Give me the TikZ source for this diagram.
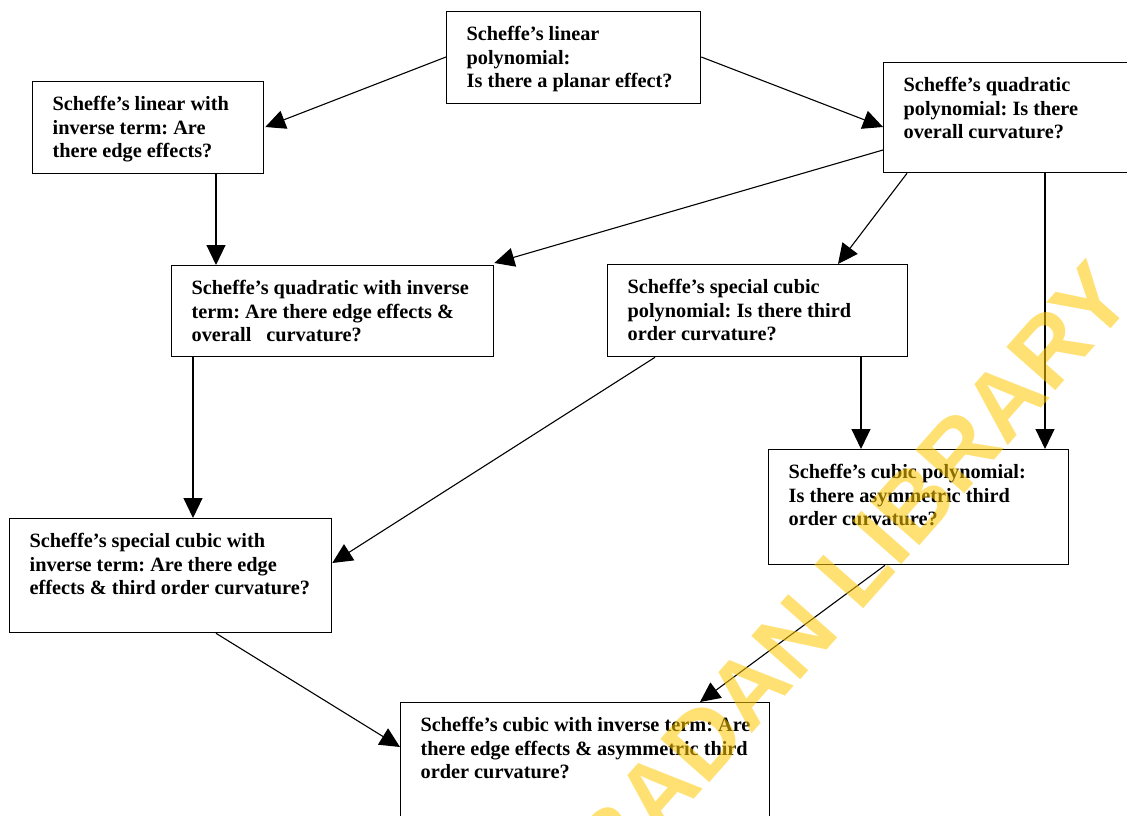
\documentclass[tikz,border=0pt]{standalone}
\usepackage{fontspec}
\setmainfont{Liberation Serif}
\newfontfamily\wmfont{Liberation Sans}
\usetikzlibrary{arrows.meta,calc}
\definecolor{wmyellow}{RGB}{255,200,0}
\tikzset{
  box/.style={draw, line width=1.3pt, anchor=north west, inner sep=0pt, align=left},
  arr/.style={line width=1.1pt, -{Triangle[length=20pt,width=19pt]}},
  wmark/.style={rotate=48.5, anchor=base east, text=wmyellow, text opacity=0.55,
    font=\wmfont\bfseries\fontsize{95pt}{95pt}\selectfont},
}
\newcommand{\boxtext}[3]{\parbox[c][#2][t]{#1}{\frenchspacing\raggedright\leftskip=20pt\fontsize{20.3pt}{23.4pt}\selectfont\bfseries\rule{0pt}{29pt}#3\par}}
\begin{document}
\begin{tikzpicture}
\useasboundingbox (0,0) rectangle (1127pt,-816pt);
\clip (0,0) rectangle (1127pt,-816pt);
\node[box] (lin) at (446pt,-11pt) {\boxtext{254pt}{92pt}{Scheffe’s linear\\ polynomial:\\ Is there a planar effect?}};
\node[box] (lininv) at (32pt,-81pt) {\boxtext{231pt}{92pt}{Scheffe’s linear with\\ inverse term: Are\\ there edge effects?}};
\node[box] (quad) at (883pt,-62pt) {\boxtext{260pt}{110pt}{Scheffe’s quadratic\\ polynomial: Is there\\ overall curvature?}};
\node[box] (quadinv) at (171pt,-265pt) {\boxtext{322pt}{91pt}{Scheffe’s quadratic with inverse\\ term: Are there edge effects \&\\ overall\hspace{15pt}curvature?}};
\node[box] (spc) at (607pt,-264pt) {\boxtext{300pt}{92pt}{Scheffe’s special cubic\\ polynomial: Is there third\\ order curvature?}};
\node[box] (cub) at (768pt,-449pt) {\boxtext{300pt}{115pt}{Scheffe’s cubic polynomial:\\ Is there asymmetric third\\ order curvature?}};
\node[box] (spcinv) at (9pt,-518pt) {\boxtext{322pt}{114pt}{Scheffe’s special cubic with\\ inverse term: Are there edge\\ effects \& third order curvature?}};
\node[box] (cubinv) at (400pt,-702pt) {\boxtext{369pt}{130pt}{Scheffe’s cubic with inverse term: Are\\ there edge effects \& asymmetric third\\ order curvature?}};

\draw[arr] ([shift={(0pt,-46pt)}]lin.north west) -- ([shift={(1pt,-46pt)}]lininv.north east);
\draw[arr] ([shift={(0pt,-46pt)}]lin.north east) -- ([shift={(0pt,-65pt)}]quad.north west);
\draw[arr] ([shift={(184pt,0pt)}]lininv.south west) -- ([shift={(45pt,0pt)}]quadinv.north west);
\draw[arr] ([shift={(0pt,-88pt)}]quad.north west) -- ([shift={(0pt,2pt)}]quadinv.north east);
\draw[arr] ([shift={(24pt,0pt)}]quad.south west) -- ([shift={(231pt,0pt)}]spc.north west);
\draw[arr] ([shift={(162pt,0pt)}]quad.south west) -- ([shift={(277pt,0pt)}]cub.north west);
\draw[arr] ([shift={(254pt,0pt)}]spc.south west) -- ([shift={(93pt,0pt)}]cub.north west);
\draw[arr] ([shift={(48pt,0pt)}]spc.south west) -- ([shift={(0pt,-45pt)}]spcinv.north east);
\draw[arr] ([shift={(22pt,0pt)}]quadinv.south west) -- ([shift={(184pt,0pt)}]spcinv.north west);
\draw[arr] ([shift={(207pt,0pt)}]spcinv.south west) -- ([shift={(0pt,-45pt)}]cubinv.north west);
\draw[arr] ([shift={(117pt,0pt)}]cub.south west) -- ([shift={(300pt,0pt)}]cubinv.north west);

\node[wmark] (wm) at (1139pt,-297pt) {IBADAN LIBRARY};
\end{tikzpicture}
\end{document}
